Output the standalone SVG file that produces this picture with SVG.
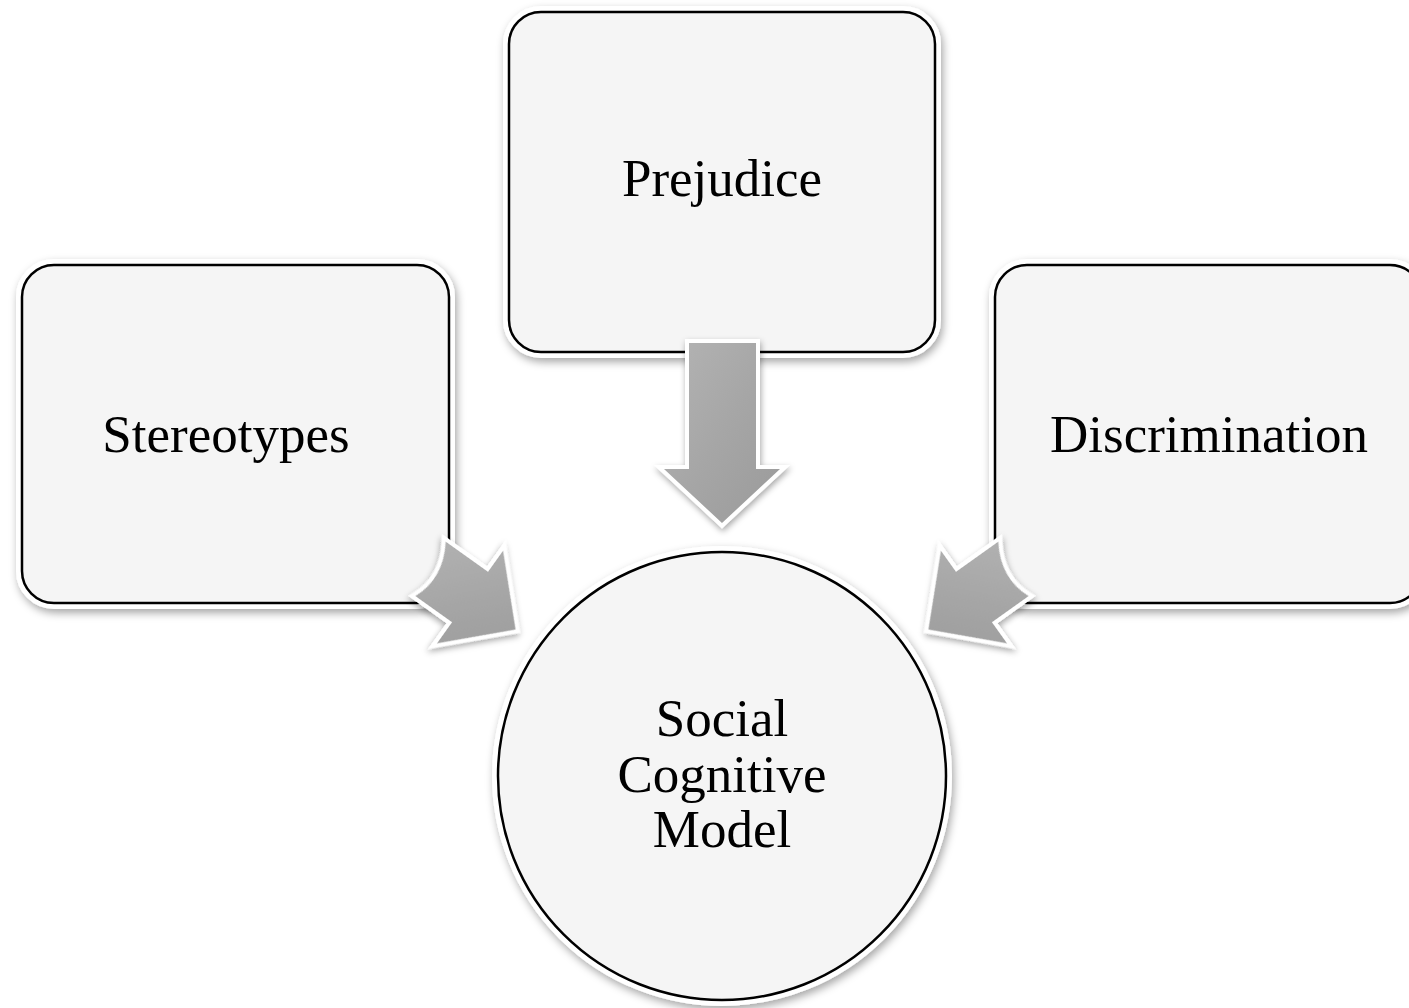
<svg xmlns="http://www.w3.org/2000/svg" width="1409" height="1008" viewBox="0 0 1409 1008">
<defs>
<filter id="sh" x="-20%" y="-20%" width="140%" height="140%">
<feDropShadow dx="2" dy="4" stdDeviation="4" flood-color="#000" flood-opacity="0.35"/>
</filter>
<filter id="ash" x="-30%" y="-30%" width="160%" height="160%">
<feDropShadow dx="1" dy="3" stdDeviation="3" flood-color="#000" flood-opacity="0.35"/>
</filter>
<linearGradient id="ag" x1="0" y1="0" x2="1" y2="1">
<stop offset="0" stop-color="#b4b4b4"/>
<stop offset="0.5" stop-color="#a6a6a6"/>
<stop offset="1" stop-color="#9a9a9a"/>
</linearGradient>
<g id="diag">
<path d="M -52,-31 L 0,-31 L 0,-57 L 56,0 L 0,57 L 0,31 L -45,31 Q -32,0 -52,-31 Z"/>
</g>
</defs>
<style>
.halo{fill:#ffffff;stroke:#ffffff;stroke-width:12;filter:url(#sh)}
.body{fill:#f5f5f5;stroke:#000000;stroke-width:2.5}
.arrow{fill:url(#ag);stroke:#ffffff;stroke-width:8;stroke-linejoin:miter;paint-order:stroke;filter:url(#ash)}
.lbl{font-family:"Liberation Serif","Times New Roman",serif;font-size:53px;fill:#000000;text-anchor:middle}
</style>
<g id="node-stereotypes">
<rect class="halo" x="22" y="265" width="427" height="338" rx="32"/>
<rect class="body" x="22" y="265" width="427" height="338" rx="32"/>
<text class="lbl" x="226" y="452">Stereotypes</text>
</g>
<g id="node-prejudice">
<rect class="halo" x="509" y="12" width="426" height="340" rx="32"/>
<rect class="body" x="509" y="12" width="426" height="340" rx="32"/>
<text class="lbl" x="722" y="196">Prejudice</text>
</g>
<g id="node-discrimination">
<rect class="halo" x="995" y="265" width="427" height="338" rx="32"/>
<rect class="body" x="995" y="265" width="427" height="338" rx="32"/>
<text class="lbl" x="1209" y="452">Discrimination</text>
</g>
<g id="node-social-cognitive-model">
<circle class="halo" cx="722" cy="776" r="224"/>
<circle class="body" cx="722" cy="776" r="224"/>
<text class="lbl" x="722" y="736">Social</text>
<text class="lbl" x="722" y="792">Cognitive</text>
<text class="lbl" x="722" y="847">Model</text>
</g>
<g id="connectors">
<path class="arrow" d="M 689,343 L 756,343 L 756,469 L 780,469 L 722,523 L 664,469 L 689,469 Z"/>
<g transform="translate(470,597) rotate(35.5)"><use href="#diag" class="arrow"/></g>
<g transform="translate(1444,0) scale(-1,1)"><g transform="translate(470,597) rotate(35.5)"><use href="#diag" class="arrow"/></g></g>
</g>
</svg>
